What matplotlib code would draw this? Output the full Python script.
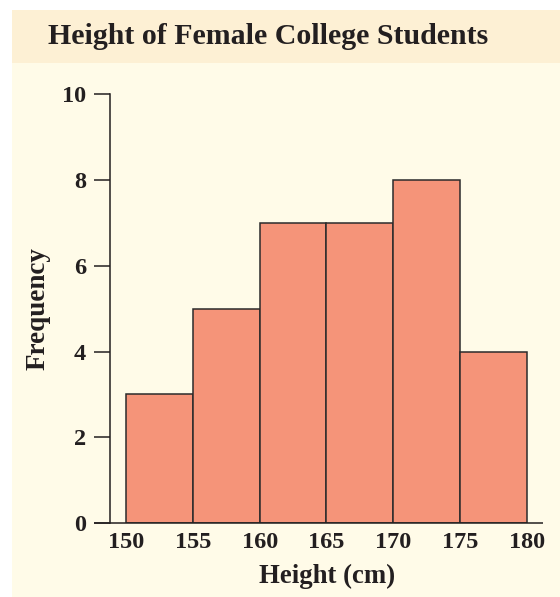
import matplotlib
matplotlib.use("Agg")
import matplotlib.pyplot as plt
from matplotlib.patches import Rectangle

# Histogram of heights (cm), bins of width 5
bin_edges = [150, 155, 160, 165, 170, 175, 180]
frequencies = [3, 5, 7, 7, 8, 4]
x_ticks = [150, 155, 160, 165, 170, 175, 180]
y_ticks = [0, 2, 4, 6, 8, 10]

W, H = 560, 597
DPI = 100
PT = 72.0 / DPI  # points per pixel

plt.rcParams["font.family"] = ["Liberation Serif", "DejaVu Serif"]
plt.rcParams["font.weight"] = "bold"

fig = plt.figure(figsize=(W / DPI, H / DPI), dpi=DPI)
fig.patch.set_facecolor("white")

def fx(px):
    return px / W

def fy(py):
    return 1 - py / H

# Cream panel and darker title band
fig.patches.append(Rectangle((fx(12), 0), 1 - fx(12), fy(10), transform=fig.transFigure,
                             facecolor="#FFFBE8", edgecolor="none", zorder=-2))
fig.patches.append(Rectangle((fx(12), fy(63)), 1 - fx(12), fy(10) - fy(63), transform=fig.transFigure,
                             facecolor="#FDF0D4", edgecolor="none", zorder=-1))
fig.text(fx(268), fy(37), "Height of Female College Students", ha="center", va="center",
         fontsize=21.5, fontweight="bold", color="#231F20")

left, right, top, bottom = 110, 543, 94.3, 523
ax = fig.add_axes([fx(left), fy(bottom), fx(right) - fx(left), fy(top) - fy(bottom)])
ax.set_facecolor("none")
ax.set_zorder(1)

widths = [b - a for a, b in zip(bin_edges[:-1], bin_edges[1:])]
ax.bar(bin_edges[:-1], frequencies, width=widths, align="edge",
       color="#F59479", edgecolor="#2B2B2B", linewidth=1.1, zorder=2)

ax.set_xlim(148.8, 181.2)
ax.set_ylim(0, 10)

for s in ["top", "right", "bottom"]:
    ax.spines[s].set_visible(False)
ax.spines["left"].set_color("#231F20")
ax.spines["left"].set_linewidth(1.1)

# baseline extending left of the vertical axis
ax.plot([148.8 - 16 / 13.37, 181.2], [0, 0], color="#231F20", lw=1.1,
        clip_on=False, zorder=3, solid_capstyle="butt")

ax.set_yticks(y_ticks)
ax.set_yticklabels([str(v) for v in y_ticks])
ax.tick_params(axis="y", length=16 * PT, width=1.1, color="#231F20", pad=8 * PT,
               labelsize=17.5, labelcolor="#231F20")
ax.set_xticks(x_ticks)
ax.set_xticklabels([str(v) for v in x_ticks])
ax.tick_params(axis="x", length=0, pad=9 * PT, labelsize=17.5, labelcolor="#231F20")
for lab in ax.get_xticklabels() + ax.get_yticklabels():
    lab.set_fontweight("bold")

fig.text(fx(327), fy(576), "Height (cm)", ha="center", va="center",
         fontsize=19.3, fontweight="bold", color="#231F20")
fig.text(fx(38), fy(309), "Frequency", ha="center", va="center", rotation=90,
         fontsize=19.5, fontweight="bold", color="#231F20")

fig.savefig("out.png", dpi=DPI)
